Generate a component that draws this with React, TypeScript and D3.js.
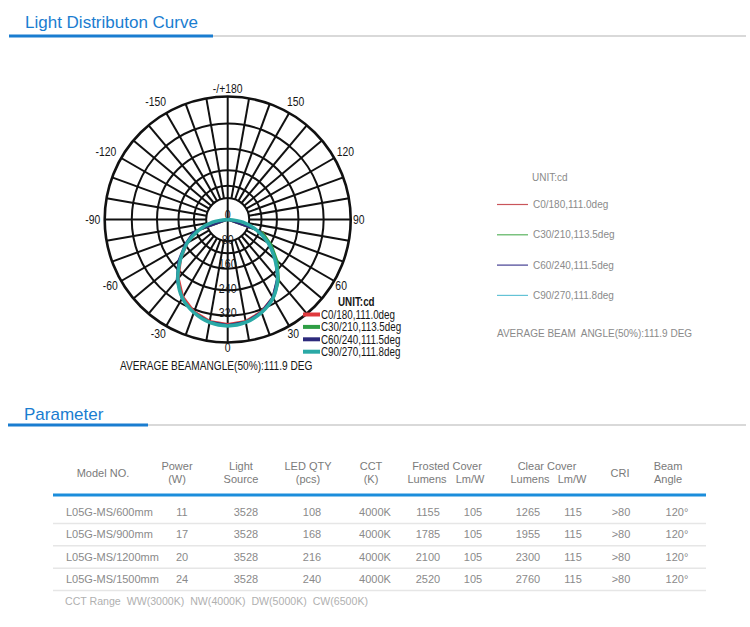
import React from "react";
import * as d3 from "d3";

// ---------- data ----------
const angleLabels = [0, 30, 60, 90, 120, 150, 180, -150, -120, -90, -60, -30];
const radialLabels = [0, 80, 160, 240, 320];
const gridRings = [70, 110, 160, 230, 312, 400];
const spokeAngles = d3.range(0, 360, 10);

const seriesNames = ["C0/180,111.0deg", "C30/210,113.5deg", "C60/240,111.5deg", "C90/270,111.8deg"];
const seriesColors = ["#e03a3e", "#2e9e44", "#2d2a7c", "#2aa9a6"];
const legendColorsRight = ["#c9555a", "#5ab35f", "#443f93", "#64c3d6"];

const anglesSparse = [-90, -70, -60, -50, -40, -30, -20, -10, 0, 10, 20, 30, 40, 50, 60, 70, 90];
const anglesFull = [-90, -80, -70, -60, -50, -40, -30, -20, -10, 0, 10, 20, 30, 40, 50, 60, 70, 80, 90];
const c0Values = [0, 110, 150, 198, 248, 290, 318, 335, 340, 335, 318, 292, 252, 205, 158, 122, 0];
const c30Values = [0, 112, 155, 205, 255, 296, 322, 338, 344, 338, 324, 298, 260, 212, 165, 120, 0];
const c60Values = [0, 118, 160, 210, 258, 298, 322, 338, 343, 338, 320, 292, 250, 202, 152, 112, 0];
const c90Values = [0, 50, 100, 152, 200, 252, 295, 322, 340, 346, 340, 322, 295, 252, 200, 152, 100, 50, 0];

const models = ["L05G-MS/600mm", "L05G-MS/900mm", "L05G-MS/1200mm", "L05G-MS/1500mm"];
const power = ["11", "17", "20", "24"];
const lightSource = ["3528", "3528", "3528", "3528"];
const ledQty = ["108", "168", "216", "240"];
const cct = ["4000K", "4000K", "4000K", "4000K"];
const frostedLumens = ["1155", "1785", "2100", "2520"];
const frostedLmW = ["105", "105", "105", "105"];
const clearLumens = ["1265", "1955", "2300", "2760"];
const clearLmW = ["115", "115", "115", "115"];
const cri = [">80", ">80", ">80", ">80"];
const beamAngle = ["120°", "120°", "120°", "120°"];
const cctRange = "CCT Range  WW(3000K)  NW(4000K)  DW(5000K)  CW(6500K)";

// ---------- layout ----------
const W = 750, H = 627;
const cx = 227.7, cy = 219.5;
const rScale = d3.scaleLinear().domain([0, 400]).range([0, 123]);
const arial = "'Liberation Sans', Arial, Helvetica, sans-serif";
const blue = "#1a7dd0";

const pt = (deg: number, r: number) => {
  const t = (deg * Math.PI) / 180;
  return [cx + r * Math.sin(t), cy + r * Math.cos(t)];
};

const labelRadius = (a: number) => {
  const m = Math.abs(a);
  if (m === 0) return 128;
  if (m === 180) return 131.5;
  if (m > 90) return 136;
  return 131;
};

// condensed text: Arial metrics squeezed horizontally
function NText(props: { x: number; y: number; size: number; anchor?: string; bold?: boolean; children: any; sx?: number }) {
  const { x, y, size, anchor, bold, children, sx } = props;
  return (
    <text
      transform={`translate(${x},${y}) scale(${sx ?? 0.82},1)`}
      dy="0.35em"
      fontFamily={arial}
      fontSize={size}
      fontWeight={bold ? "bold" : "normal"}
      textAnchor={anchor || "start"}
      fill="#161616"
    >
      {children}
    </text>
  );
}

const lineGen = (curve: any) =>
  d3
    .lineRadial<[number, number]>()
    .angle((d) => Math.PI - (d[0] * Math.PI) / 180)
    .radius((d) => rScale(d[1]))
    .curve(curve);

const curves = [
  { a: anglesSparse, v: c0Values, c: seriesColors[0], w: 2, curve: d3.curveLinear },
  { a: anglesSparse, v: c30Values, c: seriesColors[1], w: 2, curve: d3.curveLinear },
  { a: anglesSparse, v: c60Values, c: seriesColors[2], w: 2, curve: d3.curveLinear },
  { a: anglesFull, v: c90Values, c: seriesColors[3], w: 3.5, curve: d3.curveCatmullRom },
];

const columns = [
  { vals: models, x: 66, anchor: "start" },
  { vals: power, x: 182, anchor: "middle" },
  { vals: lightSource, x: 246, anchor: "middle" },
  { vals: ledQty, x: 312, anchor: "middle" },
  { vals: cct, x: 375, anchor: "middle" },
  { vals: frostedLumens, x: 428, anchor: "middle" },
  { vals: frostedLmW, x: 473, anchor: "middle" },
  { vals: clearLumens, x: 528, anchor: "middle" },
  { vals: clearLmW, x: 573, anchor: "middle" },
  { vals: cri, x: 621, anchor: "middle" },
  { vals: beamAngle, x: 677, anchor: "middle" },
];

const headers = [
  { lines: ["Model NO."], x: 103 },
  { lines: ["Power", "(W)"], x: 177 },
  { lines: ["Light", "Source"], x: 241 },
  { lines: ["LED QTY", "(pcs)"], x: 308 },
  { lines: ["CCT", "(K)"], x: 371 },
  { lines: ["Frosted Cover"], x: 447, top: true },
  { lines: ["Lumens"], x: 427, bottom: true },
  { lines: ["Lm/W"], x: 470, bottom: true },
  { lines: ["Clear Cover"], x: 547, top: true },
  { lines: ["Lumens"], x: 530, bottom: true },
  { lines: ["Lm/W"], x: 572, bottom: true },
  { lines: ["CRI"], x: 620 },
  { lines: ["Beam", "Angle"], x: 668 },
];

const rowScale = d3.scaleBand<string>().domain(models).range([501, 590.6]);

export default function App() {
  return (
    <svg width={W} height={H} style={{ position: "absolute", left: 0, top: 0, background: "#fff" }}>
      {/* Title 1 */}
      <text x={25} y={28} fontFamily={arial} fontSize={17} fill={blue}>
        Light Distributon Curve
      </text>
      <line x1={213} x2={746} y1={36} y2={36} stroke="#d9d9d9" strokeWidth={2} />
      <line x1={9} x2={213} y1={36} y2={36} stroke={blue} strokeWidth={3} />

      {/* Polar grid */}
      <g fill="none" stroke="#111">
        {gridRings.map((v, i) => (
          <circle key={i} cx={cx} cy={cy} r={rScale(v)} strokeWidth={i === gridRings.length - 1 ? 2.6 : 2} />
        ))}
        {spokeAngles.map((a) => {
          const r0 = a === 0 || a === 180 ? 0 : rScale(gridRings[0]);
          const [x1, y1] = pt(a, r0);
          const [x2, y2] = pt(a, rScale(400));
          return <line key={a} x1={x1} y1={y1} x2={x2} y2={y2} strokeWidth={2} />;
        })}
      </g>
      {radialLabels.map((v) => (
        <NText key={v} x={cx} y={cy + rScale(v) - 5} size={13} anchor="middle">
          {v}
        </NText>
      ))}
      {angleLabels.map((a) => {
        const [x, y] = pt(a, labelRadius(a));
        const shift = a < 0 && a !== -180 ? -4 : 0;
        return (
          <NText key={a} x={x + shift} y={y} size={13} anchor="middle" sx={0.8}>
            {a === 180 ? "-/+180" : a}
          </NText>
        );
      })}

      {/* curves */}
      {curves.map((s, i) => (
        <path
          key={i}
          transform={`translate(${cx},${cy})`}
          d={lineGen(s.curve)(s.a.map((a, j) => [a, s.v[j]] as [number, number])) || ""}
          fill="none"
          stroke={s.c}
          strokeWidth={s.w}
          strokeLinejoin="round"
        />
      ))}

      {/* in-chart legend */}
      <NText x={338} y={302} size={12} bold>
        UNIT:cd
      </NText>
      {seriesNames.map((n, i) => (
        <g key={n}>
          <line x1={303} x2={320} y1={314.5 + i * 12.4} y2={314.5 + i * 12.4} stroke={seriesColors[i]} strokeWidth={4} />
          <NText x={321} y={314.5 + i * 12.4} size={12}>
            {n}
          </NText>
        </g>
      ))}
      <NText x={120} y={365} size={13} sx={0.78}>
        AVERAGE BEAMANGLE(50%):111.9 DEG
      </NText>

      {/* right legend */}
      <text x={532} y={180.5} fontFamily={arial} fontSize={10} fill="#8a8a8a">
        UNIT:cd
      </text>
      {seriesNames.map((n, i) => (
        <g key={"r" + n}>
          <line x1={497} x2={528} y1={204.5 + i * 30.3} y2={204.5 + i * 30.3} stroke={legendColorsRight[i]} strokeWidth={1.2} />
          <text x={533} y={204.5 + i * 30.3} dy="0.35em" fontFamily={arial} fontSize={10} fill="#8a8a8a">
            {n}
          </text>
        </g>
      ))}
      <text x={497} y={337} fontFamily={arial} fontSize={10} fill="#8a8a8a" xmlSpace="preserve">
        AVERAGE BEAM  ANGLE(50%):111.9 DEG
      </text>

      {/* Title 2 */}
      <text x={24} y={420} fontFamily={arial} fontSize={17} fill={blue}>
        Parameter
      </text>
      <line x1={148} x2={746} y1={425} y2={425} stroke="#d9d9d9" strokeWidth={2} />
      <line x1={8} x2={148} y1={425} y2={425} stroke={blue} strokeWidth={3} />

      {/* table header */}
      {headers.map((h, i) => {
        const ys = h.top ? [466] : h.bottom ? [479.5] : h.lines.length === 2 ? [466, 479.5] : [473];
        return h.lines.map((l, j) => (
          <text key={i + "-" + j} x={h.x} y={ys[j]} dy="0.35em" fontFamily={arial} fontSize={11} fill="#7a7a7a" textAnchor="middle">
            {l}
          </text>
        ));
      })}
      <line x1={53} x2={706} y1={495} y2={495} stroke="#1b8ddb" strokeWidth={3.2} />

      {/* rows */}
      {models.map((m, r) => {
        const y0 = rowScale(m)!;
        const yc = y0 + rowScale.bandwidth() / 2;
        return (
          <g key={m}>
            <line x1={53} x2={706} y1={y0 + rowScale.bandwidth()} y2={y0 + rowScale.bandwidth()} stroke="#e6e6e6" strokeWidth={1.5} />
            {columns.map((c, k) => (
              <text key={k} x={c.x} y={yc} dy="0.35em" fontFamily={arial} fontSize={11} fill="#8a8a8a" textAnchor={c.anchor as any}>
                {c.vals[r]}
              </text>
            ))}
          </g>
        );
      })}
      <text x={65} y={601} dy="0.35em" fontFamily={arial} fontSize={11} fill="#b0b0b0" xmlSpace="preserve" textLength={303} lengthAdjust="spacingAndGlyphs">
        {cctRange}
      </text>
    </svg>
  );
}
